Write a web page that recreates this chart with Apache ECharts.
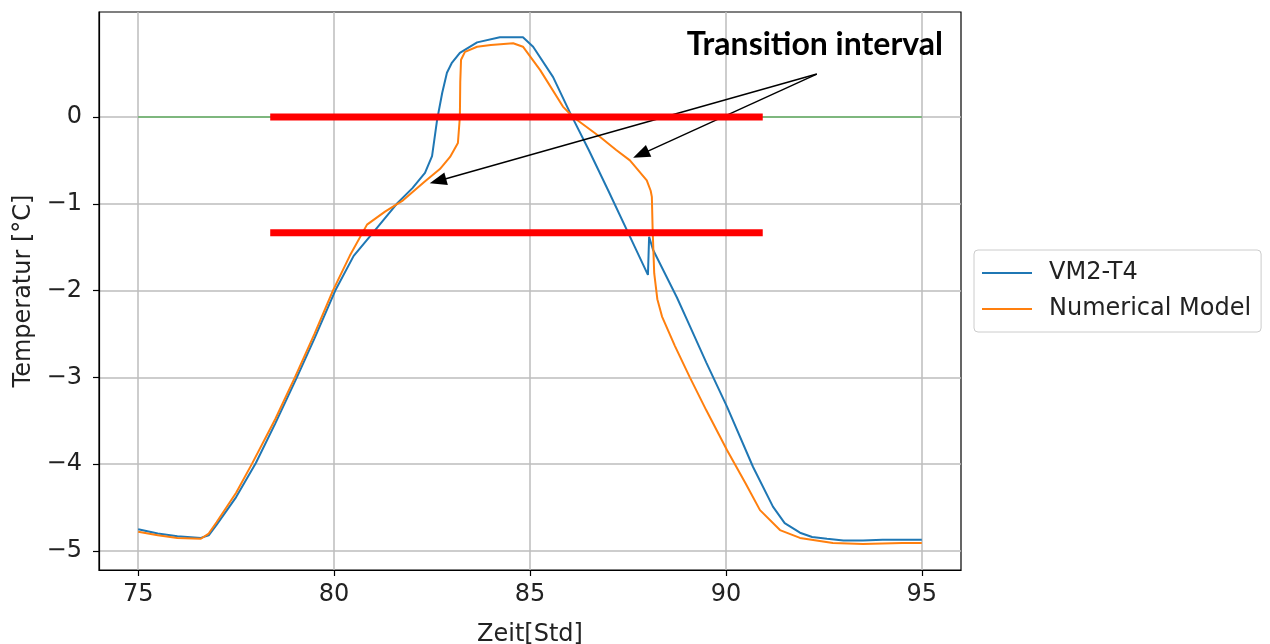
<!DOCTYPE html>
<html>
<head>
<meta charset="utf-8">
<script src="https://cdn.jsdelivr.net/npm/echarts@6/dist/echarts.min.js"></script>
<style>
html,body{margin:0;padding:0;background:#fff;}
#chart{width:1270px;height:644px;}
</style>
</head>
<body>
<div id="chart"></div>
<script>
// ---- data ----
const xTicks = [75, 80, 85, 90, 95];
const yTicks = [-5, -4, -3, -2, -1, 0];

const blueX = [75.0, 75.5, 76.0, 76.6, 76.8, 77.0, 77.5, 78.0, 78.5, 79.05, 79.5, 80.03, 80.5, 81.0, 81.6, 82.0, 82.32, 82.5, 82.63, 82.76, 82.88, 83.0, 83.21, 83.65, 84.23, 84.82, 85.08, 85.59, 86.02, 86.5, 87.0, 87.5, 88.01, 88.04, 88.14, 88.75, 89.0, 89.5, 90.03, 90.69, 91.2, 91.5, 91.89, 92.2, 92.58, 93.0, 93.5, 94.0, 94.5, 95.0];
const blueY = [-4.75, -4.80, -4.83, -4.85, -4.82, -4.70, -4.38, -3.99, -3.53, -3.0, -2.55, -2.0, -1.6, -1.33, -1.0, -0.82, -0.645, -0.45, -0.03, 0.28, 0.51, 0.62, 0.74, 0.86, 0.92, 0.92, 0.81, 0.46, 0.05, -0.38, -0.85, -1.33, -1.82, -1.38, -1.53, -2.08, -2.33, -2.83, -3.34, -4.03, -4.49, -4.68, -4.79, -4.84, -4.86, -4.88, -4.88, -4.87, -4.87, -4.87];

const orangeX = [75.0, 75.5, 76.0, 76.6, 76.8, 77.0, 77.5, 77.9, 78.5, 79.0, 79.5, 79.97, 80.4, 80.84, 81.3, 81.76, 82.3, 82.7, 82.96, 83.16, 83.21, 83.22, 83.24, 83.34, 83.65, 84.0, 84.57, 84.82, 85.26, 85.84, 86.1, 86.79, 87.2, 87.55, 87.98, 88.08, 88.11, 88.13, 88.17, 88.25, 88.37, 88.7, 89.08, 89.5, 90.03, 90.5, 90.87, 91.38, 91.89, 92.73, 93.5, 94.5, 95.0];
const orangeY = [-4.78, -4.82, -4.85, -4.86, -4.80, -4.67, -4.33, -4.0, -3.48, -3.0, -2.5, -2.0, -1.6, -1.24, -1.09, -0.96, -0.75, -0.6, -0.46, -0.3, 0.0, 0.4, 0.66, 0.75, 0.81, 0.83, 0.85, 0.81, 0.54, 0.12, 0.0, -0.23, -0.38, -0.5, -0.73, -0.85, -0.92, -1.3, -1.8, -2.1, -2.3, -2.64, -3.0, -3.38, -3.84, -4.22, -4.53, -4.76, -4.85, -4.91, -4.92, -4.91, -4.91];

const greenX = [75, 95];
const greenY = [0, 0];

const redLevels = [0, -1.333];
const redRange = [78.37, 90.94];

const annotationText = 'Transition interval';
const annotationPos = [92.27, 0.83];
const arrowFrom = [92.32, 0.495];
const arrowTargets = [[82.65, -0.737], [87.83, -0.43]];

const xName = 'Zeit[Std]';
const yName = 'Temperatur [°C]';
const seriesNames = ['VM2-T4', 'Numerical Model'];

// ---- build ----
const zip = (xs, ys) => xs.map((x, i) => [x, ys[i]]);
const FONT = 'DejaVu Sans';
const FS = 24;
const fmtMinus = v => (v < 0 ? '\u2212' + Math.abs(v) : String(v));

const series = [
  {
    name: 'zero', type: 'line', data: zip(greenX, greenY), showSymbol: false, symbol: 'none',
    lineStyle: { color: '#2ca02c', width: 1.3, opacity: 0.65 }, z: 2, silent: true
  },
  {
    name: seriesNames[0], type: 'line', data: zip(blueX, blueY), showSymbol: false, symbol: 'none',
    lineStyle: { color: '#1f77b4', width: 2 }, itemStyle: { color: '#1f77b4' }, z: 3
  },
  {
    name: seriesNames[1], type: 'line', data: zip(orangeX, orangeY), showSymbol: false, symbol: 'none',
    lineStyle: { color: '#ff7f0e', width: 2 }, itemStyle: { color: '#ff7f0e' }, z: 4
  }
];
redLevels.forEach((lv, i) => {
  series.push({
    name: 'red' + i, type: 'line', data: [[redRange[0], lv], [redRange[1], lv]],
    showSymbol: false, symbol: 'none', lineStyle: { color: '#ff0000', width: 7, cap: 'butt' }, z: 5, silent: true
  });
});
series.push({
  name: 'annot', type: 'line', data: [], z: 6, silent: true,
  markLine: {
    silent: true, animation: false,
    symbol: ['none', 'triangle'], symbolSize: [13, 17],
    lineStyle: { color: '#000', width: 1.4, type: 'solid' },
    label: { show: false },
    data: arrowTargets.map(t => [
      { coord: arrowFrom, symbol: 'none' },
      { coord: t, symbol: 'triangle', itemStyle: { color: '#000' } }
    ])
  },
  markPoint: {
    silent: true, animation: false,
    symbol: 'rect', symbolSize: [1, 1], itemStyle: { color: 'rgba(0,0,0,0)' },
    label: { show: true, position: 'inside', formatter: annotationText, color: '#000',
             fontFamily: 'Lato', fontWeight: 'bold', fontSize: 32 },
    data: [{ coord: annotationPos }]
  }
});

const chart = echarts.init(document.getElementById('chart'), null, { renderer: 'canvas' });
chart.setOption({
  animation: false,
  backgroundColor: '#fff',
  textStyle: { fontFamily: FONT },
  grid: { left: 99, right: 309, top: 12, bottom: 74, show: true, borderColor: '#000', borderWidth: 1.2,
          containLabel: false, outerBoundsMode: 'none' },
  legend: {
    data: seriesNames, orient: 'vertical', left: 974, top: 250,
    icon: 'rect', itemWidth: 50, itemHeight: 2, itemGap: 10,
    padding: [10, 10, 10, 8],
    borderColor: '#cccccc', borderWidth: 1, borderRadius: 4, backgroundColor: '#fff',
    textStyle: { fontFamily: FONT, fontSize: FS, lineHeight: 26, color: '#222', padding: [0, 0, 0, 12] }
  },
  xAxis: {
    type: 'value', min: 74, max: 96,
    name: xName, nameLocation: 'middle', nameGap: 53,
    nameTextStyle: { fontFamily: FONT, fontSize: FS, color: '#222' },
    axisLine: { show: true, onZero: false, lineStyle: { color: '#000', width: 1.2 } },
    axisTick: { show: true, customValues: xTicks, length: 6, inside: false, lineStyle: { color: '#000', width: 1.2 } },
    axisLabel: { customValues: xTicks, margin: 13, fontFamily: FONT, fontSize: FS, color: '#222' },
    splitLine: { show: true, lineStyle: { color: '#bdbdbd', width: 1.5 } }
  },
  yAxis: {
    type: 'value', min: -5.22, max: 1.21,
    name: yName, nameLocation: 'middle', nameGap: 60,
    nameTextStyle: { fontFamily: FONT, fontSize: FS, color: '#222' },
    axisLine: { show: true, onZero: false, lineStyle: { color: '#000', width: 1.2 } },
    axisTick: { show: true, customValues: yTicks, length: 6, inside: false, lineStyle: { color: '#000', width: 1.2 } },
    axisLabel: { customValues: yTicks, margin: 17, fontFamily: FONT, fontSize: FS, color: '#222', formatter: fmtMinus },
    splitLine: { show: true, lineStyle: { color: '#bdbdbd', width: 1.5 } }
  },
  series: series
});
</script>
</body>
</html>
